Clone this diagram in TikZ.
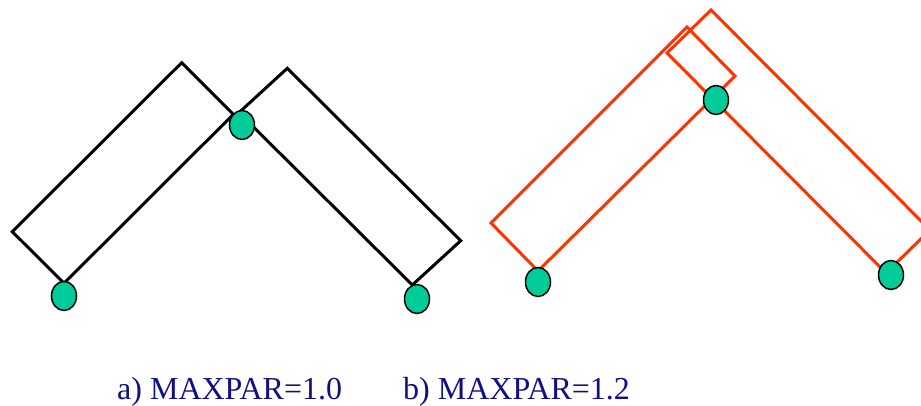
\documentclass[tikz,border=0pt]{standalone}
\usepackage{fontspec}
\setmainfont{Liberation Serif}
\usetikzlibrary{shapes.geometric}
\definecolor{joint}{RGB}{0,204,153}
\definecolor{linkred}{RGB}{255,51,0}
\definecolor{capblue}{RGB}{16,16,130}
\tikzset{
  joint/.style={draw=black,fill=joint,ellipse,line width=1.5pt,minimum width=25pt,minimum height=29pt,inner sep=0pt},
  caption/.style={anchor=base west,text=capblue,inner sep=0pt,font=\fontsize{32}{38}\selectfont}
}

\begin{document}
\begin{tikzpicture}[x=1pt,y=1pt]
\path[use as bounding box] (0,0) rectangle (921,406);
\begin{scope}
\clip (0,0) rectangle (921,406);
% a) MAXPAR=1.0
\draw[line width=3pt,line join=miter] (64.0,122.7)--(12.3,174.3)--(181.7,343.3)--(233.4,291.7)--cycle;
\draw[line width=3pt,line join=miter] (287.3,337.7)--(460.7,165.3)--(412.3,121.0)--(239.0,293.4)--cycle;
% b) MAXPAR=1.2
\draw[linkred,line width=3pt,line join=miter] (538.0,135.0)--(491.0,183.0)--(687.0,379.0)--(735.0,330.0)--cycle;
\draw[linkred,line width=3pt,line join=miter] (667.0,353.0)--(711.0,396.0)--(930.0,176.0)--(886.0,133.0)--cycle;
\end{scope}
\node[joint] (a1) at (64,110) {};
\node[joint] (a2) at (242,281) {};
\node[joint] (a3) at (417,107) {};
\node[joint] (b1) at (538,124) {};
\node[joint] (b2) at (716,306) {};
\node[joint] (b3) at (891,131) {};
\node[caption] (capa) at (117,6) {a) MAXPAR=1.0};
\node[caption] (capb) at (403,6) {b) MAXPAR=1.2};
\end{tikzpicture}
\end{document}
